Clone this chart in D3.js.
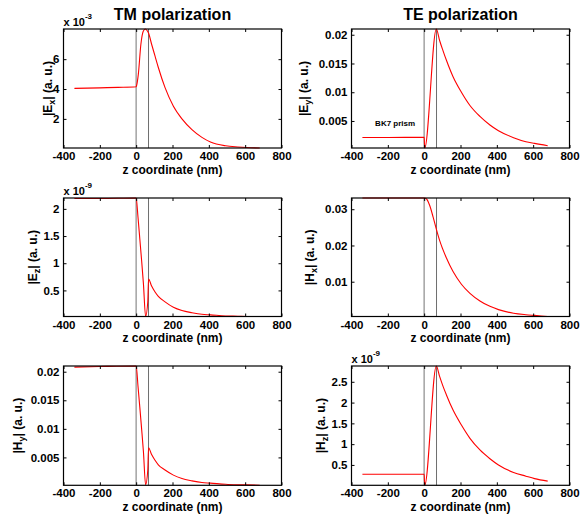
<!DOCTYPE html>
<html>
<head>
<meta charset="utf-8">
<script src="https://cdn.jsdelivr.net/npm/d3@7"></script>
<style>
  body { margin: 0; background: #fff; }
  svg { font-family: "Liberation Sans", Arial, sans-serif; font-weight: bold; }
</style>
</head>
<body>
<svg id="fig" width="580" height="516"></svg>
<script>
////////////////////////////////////////////////
// values (z in nm)

const xTicks = [-400, -200, 0, 200, 400, 600, 800];
const layerEdges = [0, 68];   // prism / metal, metal / outer medium

// TM |Ex|  (x 10^-3)
const zEx  = [-340, -200, -100, 0, 2, 12, 26, 39, 50, 60, 68, 85, 104, 122, 159, 205, 252, 307, 362, 409, 492, 560, 608, 680];
const tmEx = [4.04, 4.08, 4.11, 4.15, 4.22, 5.0, 7.0, 7.87, 8.02, 7.92, 7.75, 7.0, 6.2, 5.44, 4.09, 2.85, 2.0, 1.28, 0.76, 0.45, 0.2, 0.12, 0.08, 0.05];

// TM |Ez|  (x 10^-9) and |Hy|
const zTM  = [-340, -200, 0, 10, 20, 30, 40, 52, 64, 68, 85, 104, 122, 159, 205, 252, 307, 362, 409, 492, 560, 608, 680];
const tmEz = [2.19, 2.19, 2.2, 1.85, 1.45, 1.05, 0.62, 0.02, 0.29, 0.71, 0.58, 0.47, 0.39, 0.29, 0.19, 0.13, 0.09, 0.06, 0.05, 0.03, 0.025, 0.02, 0.02];
const tmHy = [0.0208, 0.0209, 0.0210, 0.0175, 0.0138, 0.0100, 0.0060, 0.0002, 0.0028, 0.0067, 0.0055, 0.0045, 0.0037, 0.0028, 0.0019, 0.0013, 0.0009, 0.0006, 0.0005, 0.0003, 0.0002, 0.0002, 0.00012];

// TE |Ey| and |Hz| (x 10^-9)
const zTE  = [-340, -200, 0, 3, 67, 85, 104, 122, 159, 205, 252, 307, 362, 409, 492, 560, 608, 680];
const teEy = [0.00212, 0.00213, 0.00215, 0.0003, 0.0210, 0.0190, 0.0172, 0.0156, 0.0127, 0.0100, 0.0077, 0.0058, 0.0043, 0.0033, 0.0021, 0.0014, 0.0011, 0.0007];
const teHz = [0.276, 0.276, 0.276, 0.01, 2.88, 2.63, 2.39, 2.19, 1.82, 1.46, 1.14, 0.86, 0.65, 0.5, 0.32, 0.23, 0.17, 0.11];

// TE |Hx|
const zHx  = [-340, -200, 0, 12, 30, 49, 68, 85, 122, 159, 205, 252, 307, 362, 409, 492, 560, 608, 680];
const teHx = [0.0331, 0.0331, 0.0331, 0.0329, 0.0311, 0.0279, 0.0243, 0.0214, 0.0166, 0.0128, 0.0093, 0.0068, 0.0047, 0.0032, 0.0023, 0.0013, 0.0009, 0.0007, 0.0004];

// y ticks per panel
const ticksEx = [2, 4, 6];
const ticksEy = [0.005, 0.01, 0.015, 0.02];
const ticksEz = [0.5, 1, 1.5, 2];
const ticksHx = [0.01, 0.02, 0.03];
const ticksHy = [0.005, 0.01, 0.015, 0.02];
const ticksHz = [0.5, 1, 1.5, 2, 2.5];

const titles = ["TM polarization", "TE polarization"];

////////////////////////////////////////////////
// layout (subplot boxes in px)
const cols = [[63.5, 281.5], [351.5, 569.5]];
const rows = [[29, 148], [198, 316.5], [366, 485.3]];

const panels = [
  {col: 0, row: 0, z: zEx, v: tmEx, ticks: ticksEx, f: "E", s: "x", lx: 51.5, exp: "-3"},
  {col: 1, row: 0, z: zTE, v: teEy, ticks: ticksEy, f: "E", s: "y", lx: 307.5, note: "BK7 prism"},
  {col: 0, row: 1, z: zTM, v: tmEz, ticks: ticksEz, f: "E", s: "z", lx: 36.5, exp: "-9"},
  {col: 1, row: 1, z: zHx, v: teHx, ticks: ticksHx, f: "H", s: "x", lx: 313.5},
  {col: 0, row: 2, z: zTM, v: tmHy, ticks: ticksHy, f: "H", s: "y", lx: 21.5},
  {col: 1, row: 2, z: zTE, v: teHz, ticks: ticksHz, f: "H", s: "z", lx: 324.5, exp: "-9"}
];

const svg = d3.select('svg#fig');

// column titles
svg.selectAll('text.title')
  .data(titles)
  .enter()
  .append('text')
    .attr('class', 'title')
    .attr('x', (d, i) => (cols[i][0] + cols[i][1]) / 2)
    .attr('y', 19.5)
    .attr('text-anchor', 'middle')
    .style('font-size', '16px')
    .text(d => d);

panels.forEach(drawPanel);

////////////////////////////////////////////////
//
function drawPanel(p)
{
  const L = cols[p.col][0], R = cols[p.col][1];
  const T = rows[p.row][0], B = rows[p.row][1];

  const x = d3.scaleLinear().domain([-400, 800]).range([L, R]);
  // axis tight on y, like the original
  const y = d3.scaleLinear().domain(d3.extent(p.v)).range([B, T]);

  const g = svg.append('g');

  // layer boundaries
  g.selectAll('line.edge')
    .data(layerEdges)
    .enter()
    .append('line')
      .attr('x1', d => x(d)).attr('x2', d => x(d))
      .attr('y1', T).attr('y2', B)
      .attr('stroke', (d, i) => i == 0 ? '#a8a8a8' : '#6e6e6e')
      .attr('stroke-width', (d, i) => i == 0 ? 1.6 : 1);

  // field curve
  const line = d3.line()
    .x(d => x(d[0]))
    .y(d => y(d[1]))
    .curve(d3.curveMonotoneX);

  g.append('path')
    .datum(d3.zip(p.z, p.v))
    .attr('fill', 'none')
    .attr('stroke', '#ff0000')
    .attr('stroke-width', 1.1)
    .attr('d', line);

  // axes, ticks inward on all four sides
  const gx = g.append('g').attr('transform', `translate(0,${B})`)
    .call(d3.axisBottom(x).tickValues(xTicks).tickSizeInner(-3).tickSizeOuter(0).tickPadding(4).tickFormat(d => d));
  const gxt = g.append('g').attr('transform', `translate(0,${T})`)
    .call(d3.axisTop(x).tickValues(xTicks).tickSizeInner(-3).tickSizeOuter(0).tickFormat(''));
  const gy = g.append('g').attr('transform', `translate(${L},0)`)
    .call(d3.axisLeft(y).tickValues(p.ticks).tickSizeInner(-3).tickSizeOuter(0).tickPadding(4).tickFormat(d => d));
  const gyr = g.append('g').attr('transform', `translate(${R},0)`)
    .call(d3.axisRight(y).tickValues(p.ticks).tickSizeInner(-3).tickSizeOuter(0).tickFormat(''));

  [gx, gxt, gy, gyr].forEach(a => {
    a.select('.domain').remove();
    a.selectAll('line').attr('stroke', '#000');
    a.selectAll('text')
      .attr('fill', '#000')
      .style('font-size', '11.5px')
      .style('font-family', '"Liberation Sans", Arial, sans-serif')
      .style('font-weight', 'bold');
  });

  // box
  g.append('rect')
    .attr('x', L).attr('y', T)
    .attr('width', R - L).attr('height', B - T)
    .attr('fill', 'none')
    .attr('stroke', '#000')
    .attr('stroke-width', 1.2);

  // x label
  g.append('text')
    .attr('x', (L + R) / 2)
    .attr('y', B + 25.5)
    .attr('text-anchor', 'middle')
    .style('font-size', '12px')
    .text('z coordinate (nm)');

  // y label
  const lab = g.append('text')
    .attr('transform', `translate(${p.lx},${(T + B) / 2}) rotate(-90)`)
    .attr('text-anchor', 'middle')
    .style('font-size', '12px');
  lab.append('tspan').text('|' + p.f);
  lab.append('tspan').attr('dy', 3).style('font-size', '9px').text(p.s);
  lab.append('tspan').attr('dy', -3).text('| (a. u.)');

  // exponent above the axes
  if (p.exp) {
    const ex = g.append('text')
      .attr('x', L)
      .attr('y', T - 3.5)
      .style('font-size', '11px');
    ex.append('tspan').text('x 10');
    ex.append('tspan').attr('dy', -7).style('font-size', '8px').text(p.exp);
  }

  // annotation in the prism region
  if (p.note) {
    g.append('text')
      .attr('x', x(-270))
      .attr('y', y(0.0042))
      .style('font-size', '8px')
      .text(p.note);
  }
}
</script>
</body>
</html>
